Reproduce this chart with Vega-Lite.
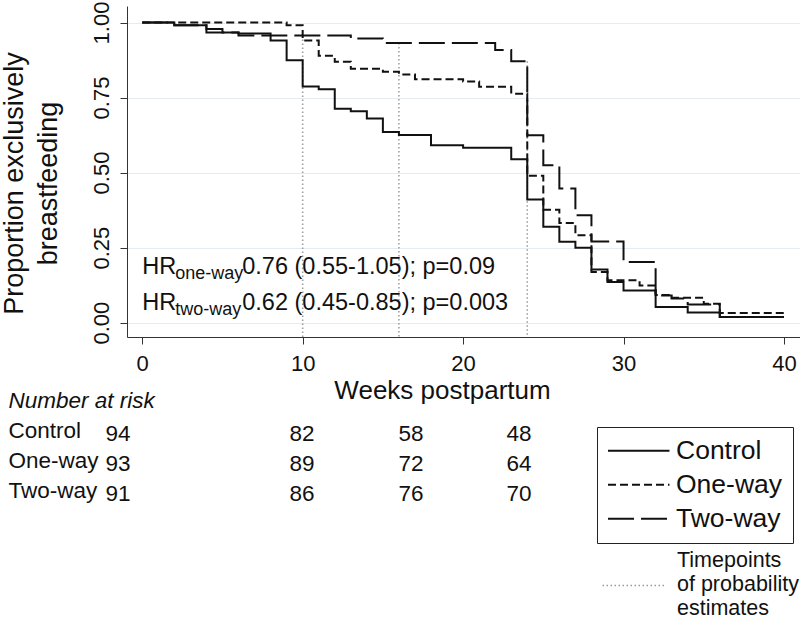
{
  "$schema": "https://vega.github.io/schema/vega-lite/v6.json",
  "autosize": {"type": "none"},
  "padding": {"left": 127, "top": 6, "right": 0, "bottom": 284},
  "width": 673,
  "height": 331,
  "config": {
    "font": "Liberation Sans",
    "view": {"stroke": null},
    "axis": {"labelColor": "#111111", "titleColor": "#111111", "domainColor": "#333333", "tickColor": "#333333", "titleFontWeight": "normal"},
    "legend": {"labelColor": "#111111"}
  },
  "datasets": {
    "km": [
      {"group": "Control", "week": 0, "surv": 1},
      {"group": "Control", "week": 2, "surv": 0.991},
      {"group": "Control", "week": 4, "surv": 0.978},
      {"group": "Control", "week": 5, "surv": 0.967},
      {"group": "Control", "week": 6, "surv": 0.963},
      {"group": "Control", "week": 8, "surv": 0.94},
      {"group": "Control", "week": 9, "surv": 0.874},
      {"group": "Control", "week": 10, "surv": 0.787},
      {"group": "Control", "week": 11, "surv": 0.778},
      {"group": "Control", "week": 12, "surv": 0.713},
      {"group": "Control", "week": 13, "surv": 0.704},
      {"group": "Control", "week": 14, "surv": 0.68},
      {"group": "Control", "week": 15, "surv": 0.635},
      {"group": "Control", "week": 16, "surv": 0.625},
      {"group": "Control", "week": 18, "surv": 0.591},
      {"group": "Control", "week": 20, "surv": 0.583},
      {"group": "Control", "week": 23, "surv": 0.544},
      {"group": "Control", "week": 24, "surv": 0.41},
      {"group": "Control", "week": 25, "surv": 0.319},
      {"group": "Control", "week": 26, "surv": 0.269},
      {"group": "Control", "week": 27, "surv": 0.249},
      {"group": "Control", "week": 28, "surv": 0.177},
      {"group": "Control", "week": 29, "surv": 0.135},
      {"group": "Control", "week": 30, "surv": 0.107},
      {"group": "Control", "week": 32, "surv": 0.052},
      {"group": "Control", "week": 34, "surv": 0.034},
      {"group": "Control", "week": 36, "surv": 0.019},
      {"group": "Control", "week": 40, "surv": 0.019},
      {"group": "One-way", "week": 0, "surv": 1},
      {"group": "One-way", "week": 9, "surv": 0.991},
      {"group": "One-way", "week": 10, "surv": 0.94},
      {"group": "One-way", "week": 11, "surv": 0.889},
      {"group": "One-way", "week": 12, "surv": 0.869},
      {"group": "One-way", "week": 13, "surv": 0.846},
      {"group": "One-way", "week": 15, "surv": 0.836},
      {"group": "One-way", "week": 16, "surv": 0.827},
      {"group": "One-way", "week": 17, "surv": 0.811},
      {"group": "One-way", "week": 20, "surv": 0.803},
      {"group": "One-way", "week": 21, "surv": 0.786},
      {"group": "One-way", "week": 23, "surv": 0.763},
      {"group": "One-way", "week": 24, "surv": 0.489},
      {"group": "One-way", "week": 25, "surv": 0.376},
      {"group": "One-way", "week": 26, "surv": 0.332},
      {"group": "One-way", "week": 27, "surv": 0.291},
      {"group": "One-way", "week": 28, "surv": 0.169},
      {"group": "One-way", "week": 29, "surv": 0.141},
      {"group": "One-way", "week": 31, "surv": 0.124},
      {"group": "One-way", "week": 32, "surv": 0.092},
      {"group": "One-way", "week": 33, "surv": 0.083},
      {"group": "One-way", "week": 35, "surv": 0.063},
      {"group": "One-way", "week": 36, "surv": 0.032},
      {"group": "One-way", "week": 40, "surv": 0.032},
      {"group": "Two-way", "week": 0, "surv": 1},
      {"group": "Two-way", "week": 2, "surv": 0.991},
      {"group": "Two-way", "week": 4, "surv": 0.967},
      {"group": "Two-way", "week": 6, "surv": 0.957},
      {"group": "Two-way", "week": 13, "surv": 0.947},
      {"group": "Two-way", "week": 15, "surv": 0.932},
      {"group": "Two-way", "week": 22, "surv": 0.908},
      {"group": "Two-way", "week": 23, "surv": 0.871},
      {"group": "Two-way", "week": 24, "surv": 0.624},
      {"group": "Two-way", "week": 25, "surv": 0.524},
      {"group": "Two-way", "week": 26, "surv": 0.447},
      {"group": "Two-way", "week": 27, "surv": 0.358},
      {"group": "Two-way", "week": 28, "surv": 0.27},
      {"group": "Two-way", "week": 30, "surv": 0.202},
      {"group": "Two-way", "week": 32, "surv": 0.09},
      {"group": "Two-way", "week": 33, "surv": 0.08},
      {"group": "Two-way", "week": 34, "surv": 0.06},
      {"group": "Two-way", "week": 36, "surv": 0.019},
      {"group": "Two-way", "week": 40, "surv": 0.019}
    ],
    "timepoints": [
      {"week": 10, "top": 0.957, "estimate": "Timepoints\nof probability\nestimates"},
      {"week": 16, "top": 0.932, "estimate": "Timepoints\nof probability\nestimates"},
      {"week": 24, "top": 0.871, "estimate": "Timepoints\nof probability\nestimates"}
    ],
    "hr": [
      {"comparison": "one-way", "result": "0.76 (0.55-1.05); p=0.09"},
      {"comparison": "two-way", "result": "0.62 (0.45-0.85); p=0.003"}
    ],
    "risk": [
      {"group": "Control", "week": 0, "n": 94},
      {"group": "Control", "week": 10, "n": 82},
      {"group": "Control", "week": 16, "n": 58},
      {"group": "Control", "week": 24, "n": 48},
      {"group": "One-way", "week": 0, "n": 93},
      {"group": "One-way", "week": 10, "n": 89},
      {"group": "One-way", "week": 16, "n": 72},
      {"group": "One-way", "week": 24, "n": 64},
      {"group": "Two-way", "week": 0, "n": 91},
      {"group": "Two-way", "week": 10, "n": 86},
      {"group": "Two-way", "week": 16, "n": 76},
      {"group": "Two-way", "week": 24, "n": 70}
    ]
  },
  "layer": [
    {
      "layer": [
        {
          "layer": [
            {
              "data": {"name": "timepoints"},
              "mark": {"type": "rule", "strokeDash": [1.5, 2.5], "strokeWidth": 1.5},
              "encoding": {
                "x": {"field": "week", "type": "quantitative"},
                "y": {"field": "top", "type": "quantitative"},
                "y2": {"datum": -0.048},
                "color": {
                  "field": "estimate", "type": "nominal",
                  "scale": {"range": ["#9a9a9a"]},
                  "legend": {
                    "title": null, "orient": "none", "legendX": 476, "legendY": 568,
                    "padding": 0, "symbolType": "M-3,0H3", "symbolSize": 441,
                    "symbolStrokeWidth": 1.5, "symbolDash": [1.5, 2.5], "symbolStrokeColor": "#9a9a9a",
                    "symbolFillColor": "transparent",
                    "symbolOffset": 19.5, "labelOffset": 31.5, "labelFontSize": 21.5,
                    "labelLimit": 400, "labelBaseline": "middle",
                    "labelExpr": "split(datum.label, '\\n')",
                    "encode": {"labels": {"update": {"dy": {"value": -25}, "lineHeight": {"value": 24}}}}
                  }
                }
              }
            },
            {
              "data": {"name": "km"},
              "mark": {"type": "line", "interpolate": "step-after", "color": "#111111", "strokeWidth": 2},
              "encoding": {
                "x": {
                  "field": "week", "type": "quantitative",
                  "scale": {"domain": [-0.95, 41], "nice": false, "zero": false},
                  "axis": {
                    "values": [0, 10, 20, 30, 40], "title": "Weeks postpartum", "titleFontSize": 26,
                    "labelFontSize": 22, "tickSize": 7, "labelPadding": 9, "grid": false,
                    "titlePadding": 3, "titleX": 315
                  }
                },
                "y": {
                  "field": "surv", "type": "quantitative",
                  "scale": {"domain": [-0.048, 1.055], "nice": false, "zero": false},
                  "axis": {
                    "values": [0, 0.25, 0.5, 0.75, 1], "format": ".2f", "labelAngle": -90,
                    "labelAlign": "center", "labelBaseline": "bottom",
                    "labelFontSize": 22, "tickSize": 7, "labelPadding": 6.5,
                    "grid": true, "gridColor": "#e2ecf1", "gridWidth": 1.2,
                    "title": ["Proportion exclusively", "breastfeeding"], "titleFontSize": 27,
                    "titleLineHeight": 34, "titlePadding": 28, "titleY": 177
                  }
                },
                "strokeDash": {
                  "field": "group", "type": "nominal",
                  "scale": {"domain": ["Control", "One-way", "Two-way"], "range": [[1, 0], [8, 4], [26, 7]]},
                  "legend": {
                    "title": null, "orient": "none", "legendX": 470, "legendY": 421,
                    "strokeColor": "#222222", "padding": 10.5,
                    "symbolType": "M-3,0H3", "symbolSize": 420, "symbolStrokeWidth": 2,
                    "symbolStrokeColor": "#111111", "symbolFillColor": "transparent",
                    "symbolOffset": 18, "labelOffset": 24, "labelFontSize": 26.5,
                    "rowPadding": 7, "labelLimit": 300
                  }
                }
              }
            }
          ]
        },
        {
          "data": {"name": "hr"},
          "encoding": {
            "x": {"datum": 0, "type": "quantitative"},
            "y": {
              "field": "comparison", "type": "nominal",
              "scale": {"type": "point", "domain": ["one-way", "two-way"], "range": [268, 304], "padding": 0},
              "axis": null
            }
          },
          "layer": [
            {"mark": {"type": "text", "align": "left", "baseline": "alphabetic", "fontSize": 23.5, "color": "#111111"}, "encoding": {"text": {"value": "HR"}}},
            {"mark": {"type": "text", "align": "left", "baseline": "alphabetic", "fontSize": 18, "dx": 33, "dy": 5, "color": "#111111"}, "encoding": {"text": {"field": "comparison"}}},
            {"mark": {"type": "text", "align": "left", "baseline": "alphabetic", "fontSize": 23.5, "dx": 100, "color": "#111111"}, "encoding": {"text": {"field": "result"}}}
          ]
        }
      ],
      "resolve": {"scale": {"y": "independent"}}
    },
    {
      "data": {"name": "risk"},
      "mark": {"type": "text", "fontSize": 22.5, "align": "center", "baseline": "middle", "dy": 4, "color": "#111111"},
      "encoding": {
        "x": {
          "field": "week", "type": "quantitative",
          "scale": {"domain": [0, 10, 16, 24], "range": [-9, 175, 284, 392]},
          "axis": null
        },
        "y": {
          "field": "group", "type": "nominal",
          "scale": {"type": "point", "domain": ["Number at risk", "Control", "One-way", "Two-way"], "range": [394, 484], "padding": 0},
          "axis": {
            "orient": "left", "domain": false, "ticks": false, "tickSize": 0, "grid": false, "title": null,
            "labelAlign": "left", "labelBaseline": "middle", "labelPadding": 119, "labelFontSize": 22.5,
            "labelFontStyle": {"condition": {"test": "datum.value === 'Number at risk'", "value": "italic"}, "value": "normal"}
          }
        },
        "text": {"field": "n", "type": "quantitative"}
      }
    }
  ],
  "resolve": {"scale": {"x": "independent", "y": "independent"}}
}
